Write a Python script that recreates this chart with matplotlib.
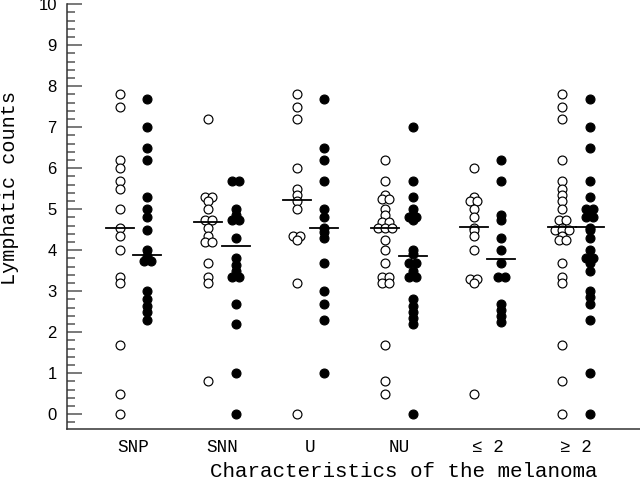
import matplotlib
matplotlib.use("Agg")
import matplotlib.pyplot as plt
from matplotlib.ticker import MultipleLocator
from collections import Counter

categories = ["SNP", "SNN", "U", "NU", "\u2264 2", "\u2265 2"]

snp_open = [7.8, 7.5, 6.2, 6.0, 5.7, 5.5, 5.0, 4.55, 4.35, 4.0, 3.35, 3.2, 1.7, 0.5, 0.0]
snp_filled = [7.7, 7.0, 6.5, 6.2, 5.3, 5.0, 4.8, 4.5, 4.0, 3.85, 3.75, 3.75, 3.0, 2.8, 2.65, 2.5, 2.3]
snn_open = [7.2, 5.3, 5.3, 5.2, 5.0, 4.75, 4.75, 4.55, 4.35, 4.2, 4.2, 3.7, 3.35, 3.2, 0.8]
snn_filled = [5.7, 5.7, 5.0, 4.85, 4.75, 4.75, 4.3, 3.8, 3.65, 3.5, 3.35, 3.35, 2.7, 2.2, 1.0, 0.0]
u_open = [7.8, 7.5, 7.2, 6.0, 5.5, 5.35, 5.2, 5.0, 4.35, 4.35, 4.25, 3.2, 0.0]
u_filled = [7.7, 6.5, 6.2, 5.7, 5.0, 4.8, 4.55, 4.45, 4.3, 3.7, 3.0, 2.7, 2.3, 1.0]
nu_open = [6.2, 5.7, 5.35, 5.25, 5.25, 5.0, 4.85, 4.7, 4.7, 4.55, 4.55, 4.55, 4.25, 4.0,
           3.7, 3.35, 3.35, 3.2, 3.2, 1.7, 0.8, 0.5]
nu_filled = [7.0, 5.7, 5.3, 5.0, 4.85, 4.8, 4.8, 4.75, 4.0, 3.9, 3.7, 3.7, 3.5, 3.35, 3.35,
             2.8, 2.65, 2.5, 2.35, 2.2, 0.0]
le2_open = [6.0, 5.3, 5.2, 5.2, 5.0, 4.8, 4.55, 4.5, 4.35, 4.0, 3.3, 3.3, 3.2, 0.5]
le2_filled = [6.2, 5.7, 4.85, 4.75, 4.3, 4.0, 3.7, 3.35, 3.35, 2.7, 2.55, 2.4, 2.25]
ge2_open = [7.8, 7.5, 7.2, 6.2, 5.7, 5.5, 5.35, 5.2, 5.0, 4.75, 4.75, 4.55, 4.5, 4.5, 4.5,
            4.35, 4.25, 4.25, 3.7, 3.35, 3.2, 1.7, 0.8, 0.0]
ge2_filled = [7.7, 7.0, 6.5, 5.7, 5.3, 5.0, 5.0, 4.85, 4.8, 4.8, 4.55, 4.5, 4.3, 4.0, 3.8,
              3.8, 3.7, 3.5, 3.0, 2.85, 2.7, 2.3, 1.0, 0.0]

median_open = [4.55, 4.69, 5.22, 4.54, 4.57, 4.57]
median_filled = [3.88, 4.10, 4.54, 3.86, 3.78, 4.57]

open_groups = [snp_open, snn_open, u_open, nu_open, le2_open, ge2_open]
filled_groups = [snp_filled, snn_filled, u_filled, nu_filled, le2_filled, ge2_filled]

W, H = 640, 482
fig = plt.figure(figsize=(W / 100, H / 100), dpi=100)
ax_left, ax_right, ax_top, ax_bottom = 66.5, 640, 4.3, 429
ax = fig.add_axes([ax_left / W, 1 - ax_bottom / H, (ax_right - ax_left) / W, (ax_bottom - ax_top) / H])

offset = 0.155
dup_step = 0.08
half_line = 0.16


def spread(values):
    counts = Counter(values)
    seen = Counter()
    xs = []
    for v in values:
        n = counts[v]
        k = seen[v]
        seen[v] += 1
        xs.append((k - (n - 1) / 2) * dup_step)
    return xs


for i, (og, fg) in enumerate(zip(open_groups, filled_groups)):
    xo = [i - offset + d for d in spread(og)]
    xf = [i + offset + d for d in spread(fg)]
    ax.plot(xo, og, "o", ms=6.4, mfc="white", mec="black", mew=0.85, ls="none", zorder=3)
    ax.plot(xf, fg, "o", ms=6.4, mfc="black", mec="black", mew=0.85, ls="none", zorder=3)
    ax.plot([i - offset - half_line, i - offset + half_line], [median_open[i]] * 2,
            color="black", lw=1.3, zorder=4)
    ax.plot([i + offset - half_line, i + offset + half_line], [median_filled[i]] * 2,
            color="black", lw=1.3, zorder=4)

ax.set_xlim(-0.757, 5.723)
ax.set_ylim(-0.36, 10)

for s in ["top", "right"]:
    ax.spines[s].set_visible(False)
ax.spines["left"].set_bounds(-0.36, 10)
for s in ["left", "bottom"]:
    ax.spines[s].set_color("#333333")
    ax.spines[s].set_linewidth(1.1)

ax.yaxis.set_major_locator(MultipleLocator(1))
ax.yaxis.set_minor_locator(MultipleLocator(0.2))
ax.tick_params(axis="y", which="major", direction="in", length=10.8, width=1.1,
               color="#555555", pad=7, labelsize=12)
ax.tick_params(axis="y", which="minor", direction="in", length=5.4, width=1.1, color="#555555")
for lab in ax.get_yticklabels():
    lab.set_family(["Liberation Sans", "DejaVu Sans"])

ax.set_xticks(range(len(categories)))
ax.set_xticklabels(categories, family=["Liberation Mono", "DejaVu Sans Mono"], fontsize=12.7)
ax.tick_params(axis="x", which="both", length=0, pad=7)

fig.text(403.5 / W, 1 - 477 / H, "Characteristics of the melanoma",
         family=["Liberation Mono", "DejaVu Sans Mono"], fontsize=15,
         ha="center", va="baseline")
fig.text(15 / W, 1 - 188 / H, "Lymphatic counts",
         family=["Liberation Mono", "DejaVu Sans Mono"], fontsize=14.5,
         rotation=90, rotation_mode="anchor", ha="center", va="baseline")

fig.savefig("out.png", dpi=100)
